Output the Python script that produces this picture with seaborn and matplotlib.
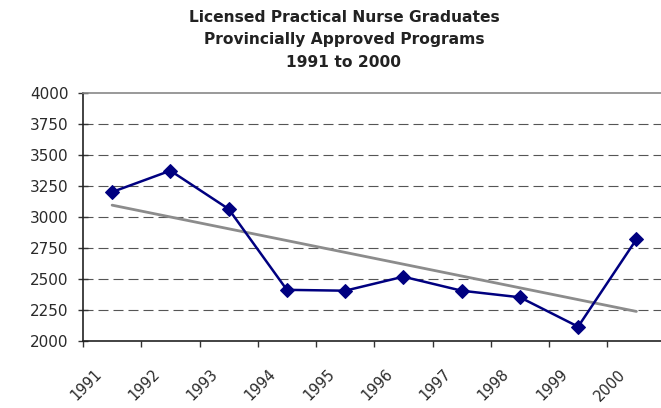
import numpy as np
import pandas as pd
import matplotlib
matplotlib.use("Agg")
import matplotlib.pyplot as plt
import matplotlib.transforms as mtransforms
import seaborn as sns

years = ["1991", "1992", "1993", "1994", "1995", "1996", "1997", "1998", "1999", "2000"]
graduates = [3204, 3376, 3067, 2415, 2408, 2521, 2408, 2355, 2118, 2822]
y_ticks = [2000, 2250, 2500, 2750, 3000, 3250, 3500, 3750, 4000]
title_lines = ["Licensed Practical Nurse Graduates", "Provincially Approved Programs", "1991 to 2000"]

sns.set_theme(style="white")
plt.rcParams["font.family"] = ["DejaVu Sans"]

df = pd.DataFrame({"pos": np.arange(len(years)) + 0.5, "year": years, "graduates": graduates})

fig = plt.figure(figsize=(6.61, 4.08), dpi=100)
W, H = 661, 408
ax = fig.add_axes([83 / W, 1 - 341.3 / H, (665.5 - 83) / W, (341.3 - 93.3) / H])

# gridlines (dashed), skip top (drawn as border)
for v in y_ticks[1:-1]:
    ax.axhline(v, color="#555555", lw=0.8, ls=(0, (9, 4.5)), zorder=0)

# trend line
sns.regplot(data=df, x="pos", y="graduates", scatter=False, ci=None, truncate=True,
            line_kws=dict(color="#8c8c8c", lw=2.0, zorder=2), ax=ax)

# data line
sns.lineplot(data=df, x="pos", y="graduates", color="#000080", lw=1.8, marker="D",
             markersize=7, markeredgecolor="#000080", ax=ax, zorder=3)

ax.set_xlim(0, len(years))
ax.set_ylim(2000, 4000)
ax.set_yticks(y_ticks)
ax.set_yticklabels([str(v) for v in y_ticks], fontsize=11, color="#2a2a2a")
ax.set_xticks(np.arange(len(years) + 1))
ax.set_xticklabels([])
ax.set_xticks(np.arange(len(years)) + 0.5, minor=True)
ax.set_xticklabels(years, minor=True, rotation=45, ha="right", va="center",
                   rotation_mode="anchor", fontsize=10.5, color="#2a2a2a")
ax.tick_params(axis="x", which="major", direction="out", length=4, width=1, color="#333333", bottom=True)
ax.tick_params(axis="x", which="minor", length=0, pad=22)
ax.tick_params(axis="y", direction="inout", length=7, width=1, color="#333333", left=True, pad=7)
off = mtransforms.ScaledTranslation(-13 / 100, 0, fig.dpi_scale_trans)
for lab in ax.get_xticklabels(minor=True):
    lab.set_transform(lab.get_transform() + off)

ax.set_xlabel("")
ax.set_ylabel("")
ax.grid(False)
for s in ["left", "bottom"]:
    ax.spines[s].set_color("#222222")
    ax.spines[s].set_linewidth(1.2)
ax.spines["top"].set_color("#888888")
ax.spines["top"].set_linewidth(1.2)
ax.spines["right"].set_visible(False)

fig.text(344 / W, 1 - 10 / H, "\n".join(title_lines), ha="center", va="top",
         fontsize=11.2, fontweight="bold", color="#222222", linespacing=1.62)

fig.savefig("out.png", dpi=100)
